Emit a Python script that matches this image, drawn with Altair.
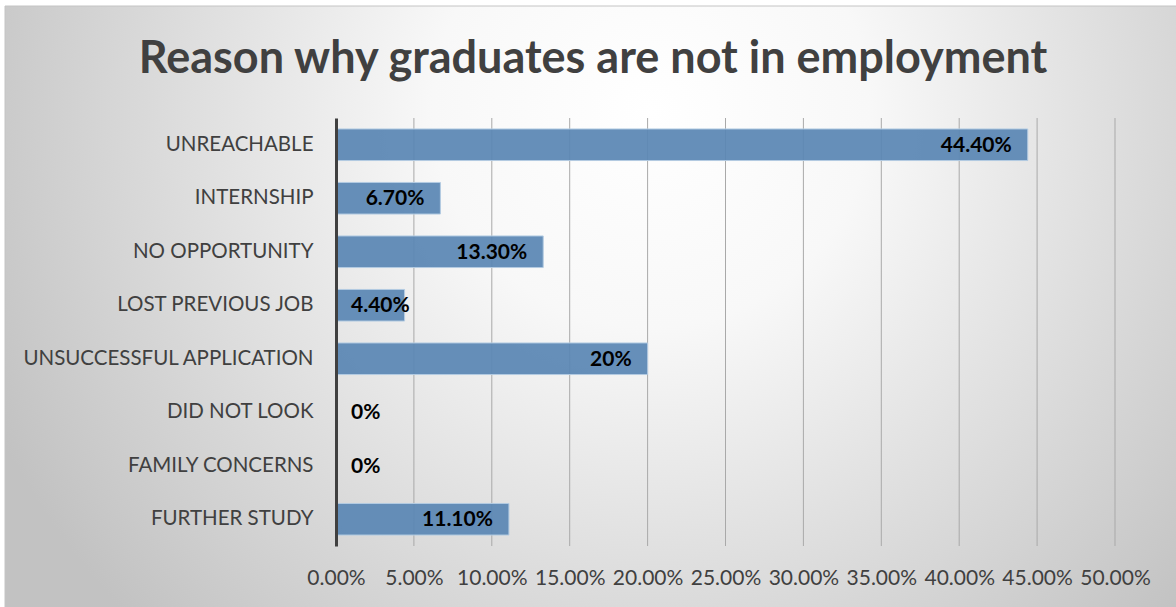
import altair as alt
import pandas as pd

categories = ["UNREACHABLE", "INTERNSHIP ", "NO OPPORTUNITY", "LOST PREVIOUS JOB",
              "UNSUCCESSFUL APPLICATION", "DID NOT LOOK", "FAMILY CONCERNS", "FURTHER STUDY"]
values = [0.444, 0.067, 0.133, 0.044, 0.20, 0.0, 0.0, 0.111]
labels = ["44.40%", "6.70%", "13.30%", "4.40%", "20%", "0%", "0%", "11.10%"]
x_ticks = [0.0, 0.05, 0.10, 0.15, 0.20, 0.25, 0.30, 0.35, 0.40, 0.45, 0.50]
title_text = "Reason why graduates are not in employment"

df = pd.DataFrame({"reason": categories, "value": values, "label": labels})
ticks_df = pd.DataFrame({"value": x_ticks[1:]})

FONT = "Lato"
W, H = 779, 428
PAD_L, PAD_T = 336, 118

bg_grad = alt.RadialGradient(
    gradient="radial",
    x1=0.55, y1=0.33, r1=0.0,
    x2=0.55, y2=0.33, r2=0.62,
    stops=[
        alt.GradientStop(offset=0.0, color="#ffffff"),
        alt.GradientStop(offset=0.3, color="#f8f8f8"),
        alt.GradientStop(offset=0.7, color="#d9d9d9"),
        alt.GradientStop(offset=1.0, color="#c2c2c2"),
    ],
)

bg = alt.Chart(pd.DataFrame({"k": [0]})).mark_rect(
    fill=bg_grad, stroke="#c4c4c4", strokeWidth=1
).encode(
    x=alt.value(5 - PAD_L), x2=alt.value(1180 - PAD_L),
    y=alt.value(6 - PAD_T), y2=alt.value(612 - PAD_T),
)

title = alt.Chart(pd.DataFrame({"t": [title_text]})).mark_text(
    font=FONT, fontSize=45, fontWeight="bold", color="#404040",
    align="center", baseline="alphabetic"
).encode(
    x=alt.value(593 - PAD_L), y=alt.value(73 - PAD_T), text="t:N"
)

x_scale = alt.Scale(domain=[0, 0.5], nice=False)
x_axis = alt.Axis(title=None, format=".2%", values=x_ticks,
                  labelFont=FONT, labelFontSize=21, labelColor="#404040",
                  labelPadding=21, ticks=False, domain=False, labelOverlap=False,
                  labelFlush=False, grid=False, zindex=1)

grid = alt.Chart(ticks_df).mark_rule(color="#a9a9a9", strokeWidth=1).encode(
    x=alt.X("value:Q", scale=x_scale, axis=x_axis),
    y=alt.value(0), y2=alt.value(H),
)

y_enc = alt.Y("reason:N", sort=categories,
              scale=alt.Scale(paddingInner=0.41, paddingOuter=0.205),
              axis=alt.Axis(title=None, labelFont=FONT, labelFontSize=20.5,
                            labelColor="#404040", labelPadding=23, ticks=False,
                            domainColor="#404040", domainWidth=3, grid=False,
                            labelLimit=400, zindex=1))
x_enc = alt.X("value:Q", scale=x_scale, axis=x_axis)

base = alt.Chart(df)

bars = base.mark_bar(fill="#5a87b4", fillOpacity=0.93, stroke="#b3cbe2",
                     strokeWidth=1).encode(x=x_enc, y=y_enc)

lab_in = base.transform_filter("datum.value >= 0.06").mark_text(
    font=FONT, fontSize=21, fontWeight="bold", color="#000000",
    align="right", baseline="middle", dx=-16, dy=1
).encode(x="value:Q", y=alt.Y("reason:N", sort=categories), text="label:N")

lab_out = base.transform_filter("datum.value < 0.06").transform_calculate(
    base="0"
).mark_text(
    font=FONT, fontSize=21, fontWeight="bold", color="#000000",
    align="left", baseline="middle", dx=15, dy=1
).encode(x="base:Q", y=alt.Y("reason:N", sort=categories), text="label:N")

chart = alt.layer(bg, title, grid, bars, lab_in, lab_out).properties(
    width=W, height=H,
    padding={"left": PAD_L, "top": PAD_T, "right": 1176 - PAD_L - W, "bottom": 607 - PAD_T - H},
    autosize=alt.AutoSizeParams(type="none"),
    background="white",
).configure_view(stroke=None, fill=None)

chart.save("out.html", embed_options={"renderer": "svg", "actions": False})
